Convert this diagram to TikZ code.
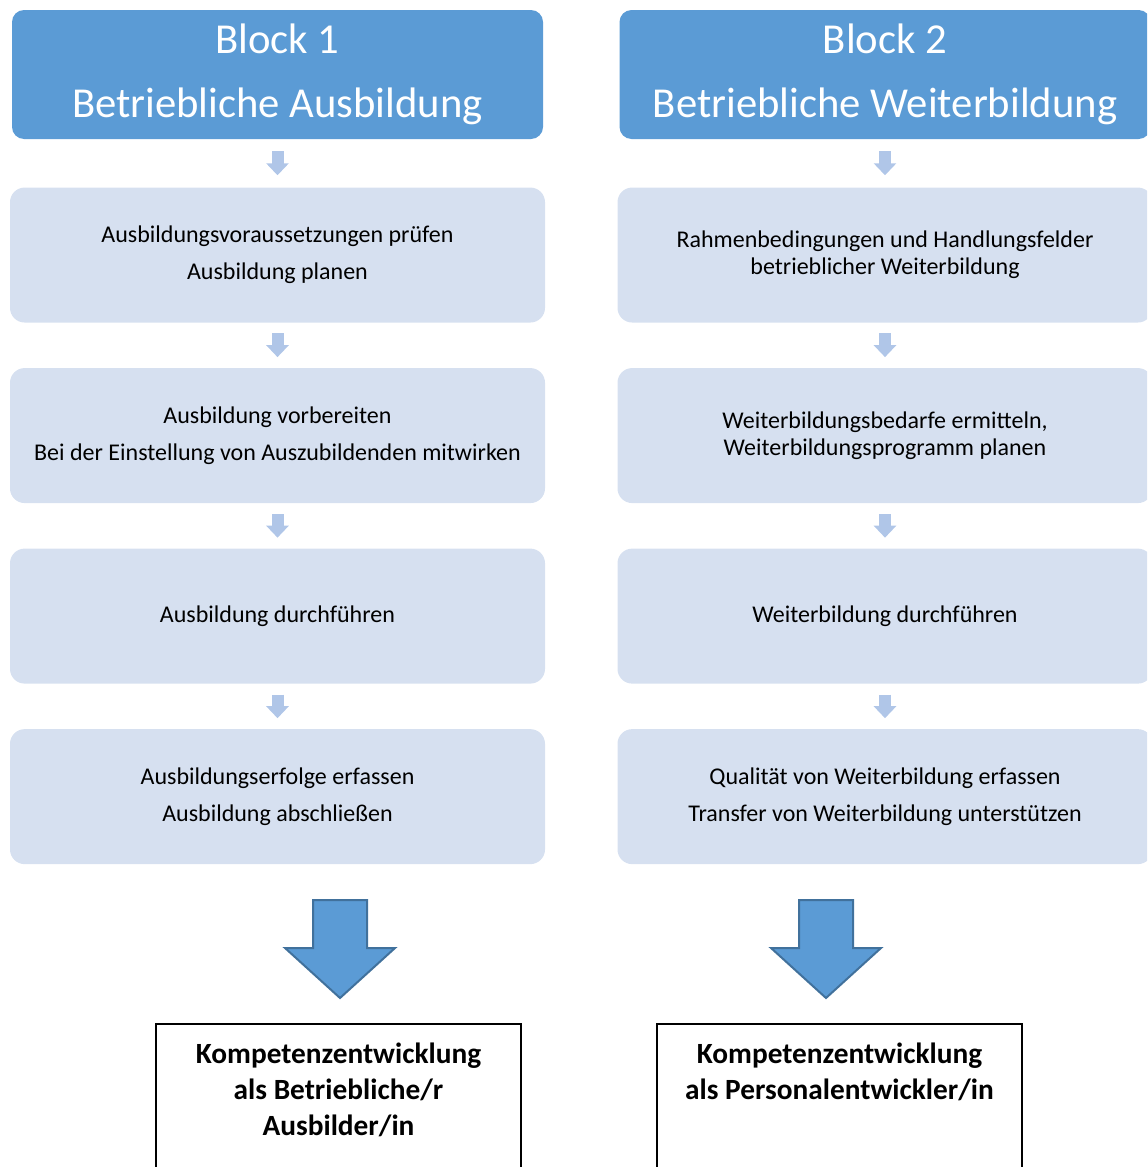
\documentclass[tikz,border=0pt]{standalone}
\usepackage{fontspec}
\setmainfont{Carlito}
\usepackage{xcolor}
\usetikzlibrary{positioning,arrows.meta}

\definecolor{headblue}{HTML}{5B9BD5}
\definecolor{boxblue}{HTML}{D6E0F0}
\definecolor{flowblue}{HTML}{B0C6E8}
\definecolor{edgeblue}{HTML}{41719C}

\begin{document}
\begin{tikzpicture}[
        x=0.75pt, y=-0.75pt,
        node distance = 33.75pt,
        head/.style={fill=headblue, text=white, rounded corners=9pt,
            minimum width=398.25pt, minimum height=96.75pt, align=center,
            font=\fontsize{32}{48}\selectfont},
        stage/.style={fill=boxblue, rounded corners=11pt,
            minimum width=401.25pt, minimum height=101.25pt, align=center,
            font=\fontsize{18}{20.25}\selectfont},
        result/.style={draw=black, line width=1.2pt, anchor=north,
            minimum width=273.75pt, inner ysep=14pt, text depth=120pt, align=center,
            font=\bfseries\fontsize{22}{27}\selectfont},
        flow/.style={-{Triangle[width=16.5pt,length=9pt]}, line width=9pt,
            draw=flowblue, shorten <=8pt, shorten >=8pt},
        bigarrow/.style={fill=headblue, draw=edgeblue, line width=1.5pt}]

        \useasboundingbox (0,0) rectangle (1147,1167);
        \clip (0,0) rectangle (1147,1167);

        % NODES
        % block 1
        \node[head] (h1) at (277.5,74.5) {Block 1\\Betriebliche Ausbildung};
        \node[stage, below=36pt of h1] (a1) {Ausbildungsvoraussetzungen prüfen\\[7.5pt]Ausbildung planen};
        \node[stage, below=of a1] (a2) {Ausbildung vorbereiten\\[7.5pt]Bei der Einstellung von Auszubildenden mitwirken};
        \node[stage, below=of a2] (a3) {Ausbildung durchführen};
        \node[stage, below=of a3] (a4) {Ausbildungserfolge erfassen\\[7.5pt]Ausbildung abschließen};
        % block 2
        \node[head] (h2) at (885,74.5) {Block 2\\Betriebliche Weiterbildung};
        \node[stage, below=36pt of h2] (w1) {Rahmenbedingungen und Handlungsfelder\\betrieblicher Weiterbildung};
        \node[stage, below=of w1] (w2) {Weiterbildungsbedarfe ermitteln,\\Weiterbildungsprogramm planen};
        \node[stage, below=of w2] (w3) {Weiterbildung durchführen};
        \node[stage, below=of w3] (w4) {Qualität von Weiterbildung erfassen\\[7.5pt]Transfer von Weiterbildung unterstützen};
        % results
        \node[result] (k1) at (338.5,1023) {Kompetenzentwicklung\\als Betriebliche/r\\Ausbilder/in};
        \node[result] (k2) at (839.5,1023) {Kompetenzentwicklung\\als Personalentwickler/in};
        \coordinate (b1) at (340,900);
        \coordinate (b2) at (826,900);

        % ARROWS
        \draw[flow, shorten <=9pt, shorten >=9pt] (h1)--(a1);
        \draw[flow] (a1)--(a2);
        \draw[flow] (a2)--(a3);
        \draw[flow] (a3)--(a4);
        \draw[flow, shorten <=9pt, shorten >=9pt] (h2)--(w1);
        \draw[flow] (w1)--(w2);
        \draw[flow] (w2)--(w3);
        \draw[flow] (w3)--(w4);
        \draw[bigarrow] (b1) ++(-27,0) -- ++(54,0) -- ++(0,48) -- ++(28,0) -- ++(-55,50) -- ++(-55,-50) -- ++(28,0) -- cycle;
        \draw[bigarrow] (b2) ++(-27,0) -- ++(54,0) -- ++(0,48) -- ++(28,0) -- ++(-55,50) -- ++(-55,-50) -- ++(28,0) -- cycle;
\end{tikzpicture}
\end{document}
